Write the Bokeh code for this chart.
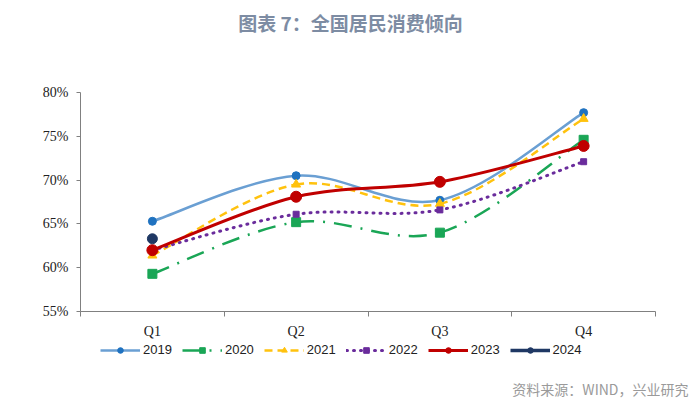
import numpy as np
from bokeh.plotting import figure
from bokeh.models import (FixedTicker, Legend, LegendItem, Label, Range1d,
                          CustomJSTickFormatter)
from bokeh.embed import file_html
from bokeh.resources import INLINE

quarters = ["Q1", "Q2", "Q3", "Q4"]
y_ticks = [55, 60, 65, 70, 75, 80]
v2019 = [65.3, 70.5, 67.7, 77.7]
v2020 = [59.3, 65.2, 64.0, 74.6]
v2021 = [61.4, 69.5, 67.3, 77.0]
v2022 = [62.0, 66.1, 66.6, 72.1]
v2023 = [62.0, 68.1, 69.8, 73.9]
v2024 = [63.3]

title_text = "图表 7：全国居民消费倾向"
source_text = "资料来源：WIND，兴业研究"

W, H = 700, 412
# plot area (pixels) inside the canvas
L, R, T, B = 80, 655, 92, 311
y_lo, y_hi = 55, 80
n_q = len(quarters)

xs = np.arange(n_q) + 0.5
xpp = (R - L) / n_q
ypp = (B - T) / (y_hi - y_lo)

p = figure(width=W, height=H, output_backend="svg", toolbar_location=None,
           x_range=Range1d(-L / xpp, n_q + (W - R) / xpp),
           y_range=Range1d(y_lo - (H - B) / ypp, y_hi + T / ypp),
           min_border_left=0, min_border_right=0, min_border_top=0,
           min_border_bottom=0)
p.outline_line_color = None
p.grid.grid_line_color = None
p.background_fill_color = "white"
p.border_fill_color = "white"

# axes
xa = p.xaxis[0]
xa.fixed_location = y_lo
xa.bounds = (0, n_q)
xa.ticker = FixedTicker(ticks=list(xs), minor_ticks=list(range(n_q + 1)))
xa.major_label_overrides = {float(x): q for x, q in zip(xs, quarters)}
xa.major_tick_line_color = None
xa.major_tick_out = 0
xa.major_tick_in = 0
xa.minor_tick_line_color = "#808080"
xa.minor_tick_out = 5
xa.minor_tick_in = 0
xa.axis_line_color = "#808080"
xa.major_label_text_font = "Liberation Serif"
xa.major_label_text_font_size = "14px"
xa.major_label_text_color = "#222222"
xa.major_label_standoff = 7

ya = p.yaxis[0]
ya.fixed_location = 0
ya.bounds = (y_lo, y_hi)
ya.ticker = FixedTicker(ticks=y_ticks, minor_ticks=[])
ya.formatter = CustomJSTickFormatter(code="return tick.toFixed(0) + '%';")
ya.axis_line_color = "#808080"
ya.major_tick_line_color = "#808080"
ya.major_tick_out = 4
ya.major_tick_in = 0
ya.minor_tick_line_color = None
ya.major_label_text_font = "Liberation Serif"
ya.major_label_text_font_size = "14px"
ya.major_label_text_color = "#222222"
ya.major_label_standoff = 8


def smooth(ys, color, width, dash, cap="butt"):
    ys = np.asarray(ys, dtype=float)
    n = len(ys)
    px = np.concatenate([[xs[0]], xs[:n], [xs[n - 1]]])
    py = np.concatenate([[ys[0]], ys, [ys[-1]]])
    x0, y0 = px[1:-2], py[1:-2]
    x1, y1 = px[2:-1], py[2:-1]
    cx0 = x0 + (px[2:-1] - px[:-3]) / 6
    cy0 = y0 + (py[2:-1] - py[:-3]) / 6
    cx1 = x1 - (px[3:] - px[1:-2]) / 6
    cy1 = y1 - (py[3:] - py[1:-2]) / 6
    return p.bezier(x0=x0, y0=y0, x1=x1, y1=y1, cx0=cx0, cy0=cy0, cx1=cx1, cy1=cy1,
                    line_color=color, line_width=width, line_dash=dash, line_cap=cap)


items = []

r = smooth(v2019, "#6a9fd3", 2.5, "solid")
m = p.scatter(xs, v2019, marker="circle", size=8, fill_color="#1f72c0", line_color="#1f72c0")
items.append(LegendItem(label="2019", renderers=[r, m]))

r = smooth(v2020, "#1aa656", 2.5, "18 9 2 9")
m = p.scatter(xs, v2020, marker="square", size=9, fill_color="#1aa656", line_color="#1aa656")
items.append(LegendItem(label="2020", renderers=[r, m]))

r = smooth(v2021, "#ffc20e", 2.5, "8 5")
m = p.scatter(xs, v2021, marker="triangle", size=9, fill_color="#ffc20e", line_color="#ffc20e")
items.append(LegendItem(label="2021", renderers=[r, m]))

r = smooth(v2022, "#6a2c9c", 3, "1 6", cap="round")
m = p.scatter(xs, v2022, marker="square", size=6, fill_color="#6a2c9c", line_color="#6a2c9c")
items.append(LegendItem(label="2022", renderers=[r, m]))

r = smooth(v2023, "#c00000", 3, "solid")
m = p.scatter(xs, v2023, marker="circle", size=11, fill_color="#c00000", line_color="#c00000")
items.append(LegendItem(label="2023", renderers=[r, m]))

x24 = xs[:len(v2024)]
r = p.line(x24, v2024, line_color="#1f3864", line_width=3.5)
m = p.scatter(x24, v2024, marker="circle", size=10, fill_color="#1f3864", line_color="#1f3864")
items.append(LegendItem(label="2024", renderers=[r, m]))

legend = Legend(items=items, orientation="horizontal", location=(100, 55),
                glyph_width=40, glyph_height=14, label_standoff=3, spacing=10,
                padding=0, margin=0, border_line_color=None,
                background_fill_alpha=0,
                label_text_font="Liberation Sans", label_text_font_size="13px",
                label_text_color="#222222")
p.add_layout(legend, "center")

p.add_layout(Label(x=W / 2, y=H - 22, x_units="screen", y_units="screen", text=title_text,
                   text_align="center", text_baseline="middle",
                   text_font="Noto Sans CJK SC", text_font_style="bold",
                   text_font_size="19px", text_color="#7d8ca3"))
p.add_layout(Label(x=W - 12, y=H - 388, x_units="screen", y_units="screen", text=source_text,
                   text_align="right", text_baseline="middle",
                   text_font="Noto Sans CJK SC",
                   text_font_size="14px", text_color="#9a9a9a"))

open("out.html", "w").write(file_html(p, INLINE))
